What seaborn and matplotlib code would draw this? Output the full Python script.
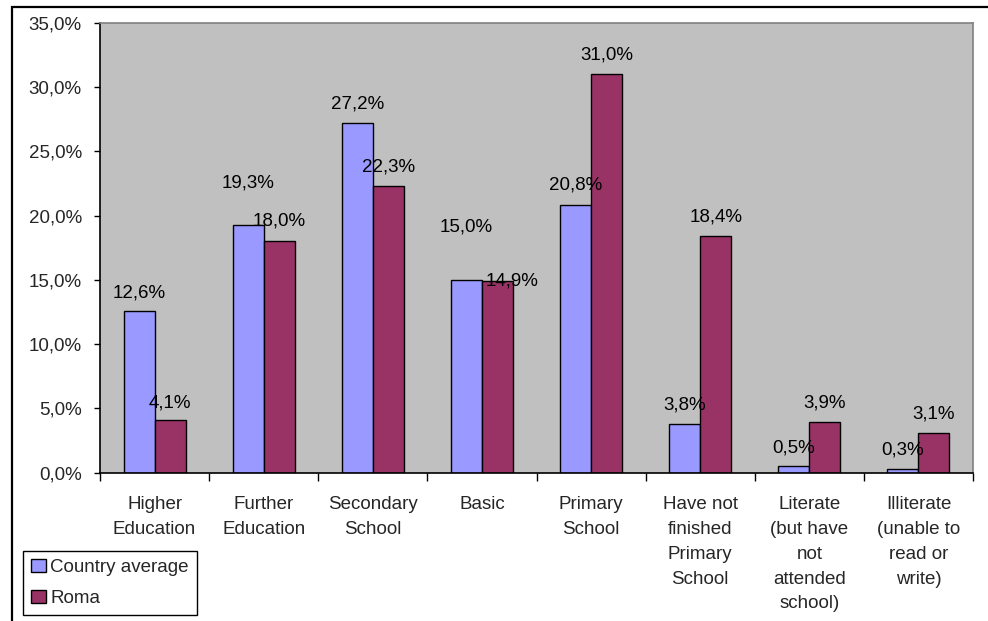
import matplotlib
matplotlib.use("Agg")
import matplotlib.pyplot as plt
from matplotlib.patches import Rectangle, Patch
from matplotlib.ticker import FixedLocator, FuncFormatter
import seaborn as sns
import pandas as pd

# ---- data ----
categories = ["Higher\nEducation", "Further\nEducation", "Secondary\nSchool", "Basic",
              "Primary\nSchool", "Have not\nfinished\nPrimary\nSchool",
              "Literate\n(but have\nnot\nattended\nschool)", "Illiterate\n(unable to\nread or\nwrite)"]
series_names = ["Country average", "Roma"]
country_avg = [12.6, 19.3, 27.2, 15.0, 20.8, 3.8, 0.5, 0.3]
roma = [4.1, 18.0, 22.3, 14.9, 31.0, 18.4, 3.9, 3.1]
y_ticks = [0, 5, 10, 15, 20, 25, 30, 35]

# label placement tweaks (pixels above bar top / horizontal shift), as in the original
label_dy = {"Country average": [18, 42, 19, 53, 20, 19, 18, 19],
            "Roma": [17, 20, 19, 0, 19, 19, 19, 19]}
label_dx = {"Country average": [0, 0, 0, 0, 0, 0, 0, 0],
            "Roma": [0, 0, 0, 15, 0, 0, 0, 0]}

colors = ["#9999FF", "#993366"]

df = pd.DataFrame({
    "category": categories * 2,
    "series": [series_names[0]] * len(categories) + [series_names[1]] * len(categories),
    "value": country_avg + roma,
})

sns.set_style("white")
plt.rcParams["font.family"] = ["Liberation Sans", "DejaVu Sans"]
FS = 13.5

fig = plt.figure(figsize=(9.88, 6.21), dpi=100)
ax = fig.add_axes([100 / 988, 1 - 472.5 / 621, 873 / 988, (472.5 - 23) / 621])
ax.set_facecolor("#C0C0C0")

sns.barplot(data=df, x="category", y="value", hue="series", order=categories,
            hue_order=series_names, palette=colors, width=0.568, edgecolor="black",
            linewidth=1.0, saturation=1, ax=ax, legend=False, errorbar=None)

ax.set_xlim(-0.5, len(categories) - 0.5)
ax.set_ylim(0, 35)
ax.set_xlabel("")
ax.set_ylabel("")

# y axis
ax.yaxis.set_major_locator(FixedLocator(y_ticks))
ax.yaxis.set_major_formatter(FuncFormatter(lambda v, p: f"{v:.1f}%".replace(".", ",")))
ax.tick_params(axis="y", direction="out", length=4, width=1, color="black",
               labelsize=FS, pad=9, left=True)

# x axis: ticks between categories, labels at centers
n = len(categories)
ax.xaxis.set_major_locator(FixedLocator([i - 0.5 for i in range(n + 1)]))
ax.xaxis.set_major_formatter(FuncFormatter(lambda v, p: ""))
ax.set_xticks(list(range(n)), minor=True)
ax.set_xticklabels(categories, minor=True, fontsize=FS, linespacing=1.6)
ax.tick_params(axis="x", which="major", direction="out", length=6, width=1,
               color="black", bottom=True)
ax.tick_params(axis="x", which="minor", length=0, pad=17)

for s in ["top", "right"]:
    ax.spines[s].set_color("#808080")
    ax.spines[s].set_linewidth(1.2)
for s in ["left", "bottom"]:
    ax.spines[s].set_color("black")
    ax.spines[s].set_linewidth(1.2)

# value labels
for container, name in zip(ax.containers, series_names):
    for i, bar in enumerate(container):
        h = bar.get_height()
        xc = bar.get_x() + bar.get_width() / 2
        ax.annotate(f"{h:.1f}%".replace(".", ","), xy=(xc, h),
                    xytext=(label_dx[name][i] * 0.72, label_dy[name][i] * 0.72),
                    textcoords="offset points", ha="center", va="center",
                    fontsize=FS, color="black", annotation_clip=False)

# legend
handles = [Patch(facecolor=c, edgecolor="black", linewidth=1) for c in colors]
leg = fig.legend(handles, series_names, loc="upper left",
                 bbox_to_anchor=(23 / 988, 1 - 550.7 / 621), fontsize=FS,
                 frameon=True, fancybox=False, edgecolor="black", framealpha=1,
                 borderpad=0.45, labelspacing=0.72, handlelength=0.75, handleheight=0.7,
                 handletextpad=0.25, borderaxespad=0)
leg.get_frame().set_linewidth(1.0)

# outer chart frame (extends beyond the image to the right and bottom)
fig.patches.append(Rectangle((12 / 988, -0.2), 1.2, 1.2 - 6.5 / 621,
                             transform=fig.transFigure, fill=False,
                             edgecolor="black", linewidth=1.6, clip_on=False))

fig.savefig("out.png", dpi=100)
